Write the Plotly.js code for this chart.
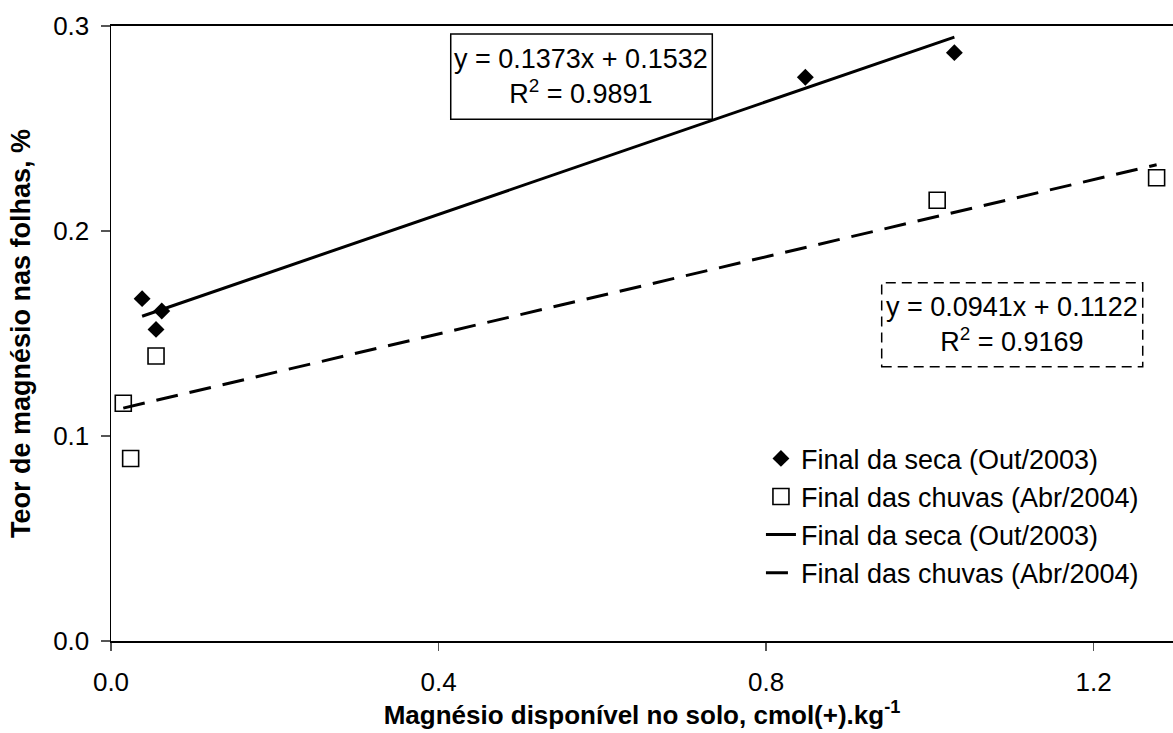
<!DOCTYPE html>
<html>
<head>
<meta charset="utf-8">
<script src="https://cdn.plot.ly/plotly-3.0.1.min.js"></script>
<style>html,body{margin:0;padding:0;background:#fff;}#chart{width:1173px;height:733px;}</style>
</head>
<body>
<div id="chart"></div>
<script>
// Final da seca (Out/2003) - observed points
var secaX = [0.038, 0.062, 0.055, 0.848, 1.03];
var secaY = [0.167, 0.161, 0.152, 0.275, 0.287];
// Final das chuvas (Abr/2004) - observed points
var chuvasX = [0.055, 0.015, 0.024, 1.009, 1.277];
var chuvasY = [0.139, 0.116, 0.089, 0.215, 0.226];
// Linear trendlines (end points)
var trendSecaX = [0.038, 1.03];
var trendSecaY = [0.1584, 0.2946];
var trendChuvasX = [0.015, 1.277];
var trendChuvasY = [0.1136, 0.2323];
// Labels
var seriesNames = ["Final da seca (Out/2003)", "Final das chuvas (Abr/2004)"];
var eqSeca = "y = 0.1373x + 0.1532<br>R<sup>2</sup> = 0.9891";
var eqChuvas = "y = 0.0941x + 0.1122<br>R<sup>2</sup> = 0.9169";
var xTicks = [0.0, 0.4, 0.8, 1.2];
var yTicks = [0.0, 0.1, 0.2, 0.3];
var xTitle = "<b>Magnésio disponível no solo, cmol(+).kg<sup>-1</sup></b>";
var yTitle = "<b>Teor de magnésio nas folhas, %</b>";

var FONT = "Liberation Sans, Arial, sans-serif";

var traces = [
  {x: secaX, y: secaY, type: "scatter", mode: "markers", name: seriesNames[0],
   marker: {symbol: "diamond", size: 13, color: "#000", line: {width: 0}}},
  {x: chuvasX, y: chuvasY, type: "scatter", mode: "markers", name: seriesNames[1],
   marker: {symbol: "square", size: 16, color: "#fff", line: {width: 1.6, color: "#000"}}},
  {x: trendSecaX, y: trendSecaY, type: "scatter", mode: "lines", name: seriesNames[0],
   line: {color: "#000", width: 3}},
  {x: trendChuvasX, y: trendChuvasY, type: "scatter", mode: "lines", name: seriesNames[1],
   line: {color: "#000", width: 3, dash: "22px,12px"}}
];

var layout = {
  width: 1173, height: 733,
  margin: {l: 111, r: 0, t: 26, b: 92},
  paper_bgcolor: "#fff", plot_bgcolor: "#fff",
  font: {family: FONT, size: 26, color: "#000"},
  showlegend: true,
  legend: {x: 0.612, xanchor: "left", y: 0.336, yanchor: "top",
           bgcolor: "rgba(0,0,0,0)", borderwidth: 0,
           font: {family: FONT, size: 27, color: "#000"}},
  xaxis: {range: [0, 1.297], tickvals: xTicks, tickformat: ".1f",
          showgrid: false, zeroline: false, showline: true, mirror: true,
          linecolor: "#000", linewidth: 2, ticks: "outside", ticklen: 8,
          tickcolor: "#555", tickwidth: 1.5, ticklabelstandoff: 9,
          tickfont: {family: FONT, size: 26},
          title: {text: xTitle, font: {family: FONT, size: 26}, standoff: 10},
          automargin: false},
  yaxis: {range: [0, 0.3], tickvals: yTicks, tickformat: ".1f",
          showgrid: false, zeroline: false, showline: true,
          linecolor: "#000", linewidth: 1.5, ticks: "outside", ticklen: 9,
          tickcolor: "#555", tickwidth: 1.5, ticklabelstandoff: 6,
          tickfont: {family: FONT, size: 26},
          title: {text: yTitle, font: {family: FONT, size: 27}, standoff: 14},
          automargin: false},
  shapes: [
    {type: "rect", xref: "paper", yref: "paper", x0: 0.3199, x1: 0.5662, y0: 0.8483, y1: 0.987,
     line: {color: "#000", width: 1.5}, fillcolor: "rgba(0,0,0,0)"},
    {type: "rect", xref: "paper", yref: "paper", x0: 0.7257, x1: 0.9715, y0: 0.446, y1: 0.5826,
     line: {color: "#000", width: 1.5, dash: "10px,6px"}, fillcolor: "rgba(0,0,0,0)"}
  ],
  annotations: [
    {xref: "paper", yref: "paper", x: 0.443, y: 0.9177, xanchor: "center", yanchor: "middle",
     text: eqSeca, showarrow: false, align: "center", font: {family: FONT, size: 27}},
    {xref: "paper", yref: "paper", x: 0.8486, y: 0.5143, xanchor: "center", yanchor: "middle",
     text: eqChuvas, showarrow: false, align: "center", font: {family: FONT, size: 27}}
  ]
};

Plotly.newPlot("chart", traces, layout, {displayModeBar: false, staticPlot: true});
</script>
</body>
</html>
